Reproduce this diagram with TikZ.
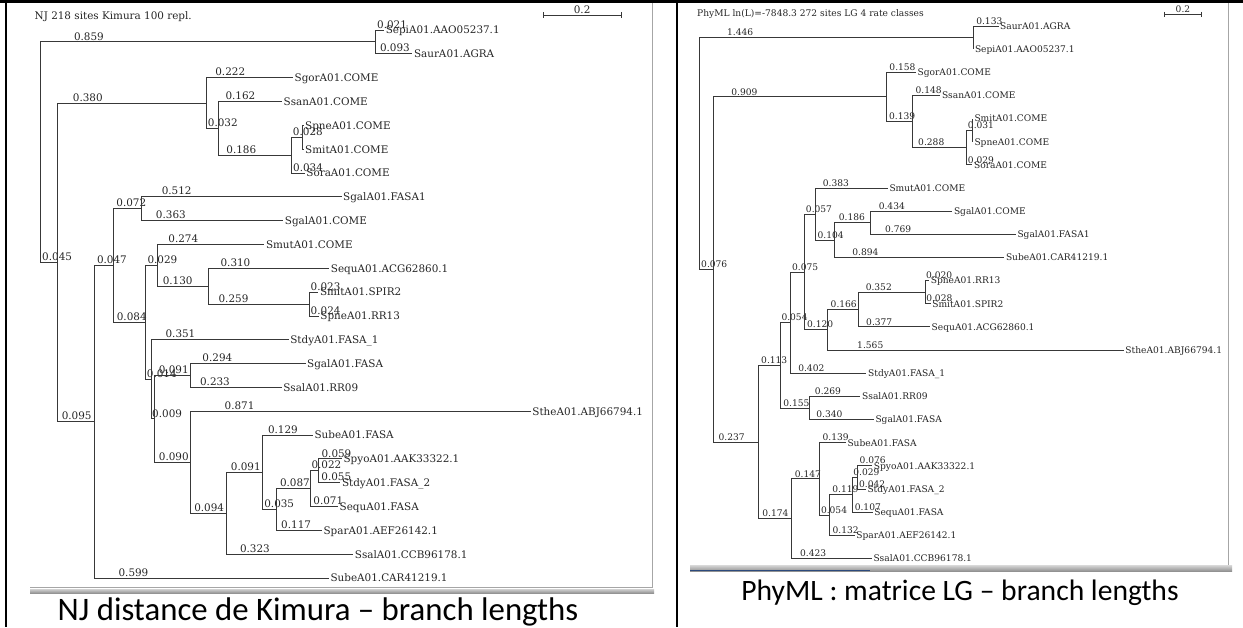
\documentclass[tikz,border=0pt]{standalone}
\usepackage{fontspec}
\newfontfamily\treefont{DejaVu Serif}
\newfontfamily\capfont{Carlito}
\newcommand\lfnt{\treefont\fontsize{10.4pt}{12pt}\selectfont}
\newcommand\rfnt{\treefont\fontsize{9.1pt}{11pt}\selectfont}
\usetikzlibrary{calc}
\definecolor{barblue}{RGB}{45,75,125}
\tikzset{
  br/.style={draw=black!78, line width=0.95pt},
  labL/.style={anchor=south west, inner xsep=0pt, inner ysep=1.4pt, text depth=0pt, font=\lfnt, text=black!85},
  labR/.style={anchor=south west, inner xsep=0pt, inner ysep=1.4pt, text depth=0pt, font=\rfnt, text=black!85},
  leafL/.style={anchor=west, inner xsep=1.5pt, inner ysep=0pt, text height=7.6pt, text depth=0pt, font=\lfnt, text=black!85},
  leafR/.style={anchor=west, inner xsep=1.5pt, inner ysep=0pt, text height=6.6pt, text depth=0pt, font=\rfnt, text=black!85},
  border/.style={draw=black, line width=2.3pt},
  frame/.style={draw=black!35, line width=1pt},
}
\newcommand\brL[3]{\draw[br] (#1) |- (#2) node[labL,pos=0.55]{#3};}
\newcommand\brR[3]{\draw[br] (#1) |- (#2) node[labR,pos=0.55]{#3};}
\newcommand\brZ[2]{\draw[br] (#1) |- (#2);}
\begin{document}
\begin{tikzpicture}[x=1pt,y=-1pt]
\useasboundingbox (0,0) rectangle (1243,627);
\fill[white] (0,0) rectangle (1243,627);

% ---------- table borders ----------
\draw[draw=black, line width=3.3pt] (0,1.65) -- (1243,1.65);
\draw[border] (6.1,0) -- (6.1,627);
\draw[border] (677.2,0) -- (677.2,627);

% ---------- screenshot frames ----------
\draw[frame] (652.5,3) -- (652.5,587.5) -- (30,587.5);
\shade[top color=black!18, bottom color=black!45] (30,589) rectangle (654,593.5);
\draw[frame] (1228,3) -- (1228,565);
\shade[top color=black!15, bottom color=black!45] (690,565) rectangle (1232,571.5);
\draw[barblue, line width=1.5pt] (690,570.7) -- (870,570.7);

% ---------- titles and scale bars ----------
\node[font=\lfnt, text=black!85, anchor=base west, inner sep=0pt] (titL) at (34.5,19) {NJ 218 sites Kimura 100 repl.};
\node[font=\rfnt, text=black!85, anchor=base west, inner sep=0pt] (titR) at (697,16) {PhyML ln(L)=-7848.3 272 sites LG 4 rate classes};

\coordinate (sL1) at (543,15);
\coordinate (sL2) at (621.2,15);
\draw[br] (sL1) -- (sL2) node[midway, anchor=south, inner sep=0.8pt, font=\lfnt, text=black!85] (sLlab) {0.2};
\draw[br] ([yshift=3pt]sL1) -- ([yshift=-3pt]sL1);
\draw[br] ([yshift=3pt]sL2) -- ([yshift=-3pt]sL2);

\coordinate (sR1) at (1164,14.4);
\coordinate (sR2) at (1201.9,14.4);
\draw[br] (sR1) -- (sR2) node[midway, anchor=south, inner sep=0.8pt, font=\rfnt, text=black!85] (sRlab) {0.2};
\draw[br] ([yshift=2.5pt]sR1) -- ([yshift=-2.5pt]sR1);
\draw[br] ([yshift=2.5pt]sR2) -- ([yshift=-2.5pt]sR2);

% ---------- captions ----------
\node[font=\capfont\fontsize{32.8pt}{38pt}\selectfont, anchor=base, inner sep=0pt] (capL) at (318,620) {NJ distance de Kimura – branch lengths};
\node[font=\capfont\fontsize{29.6pt}{34pt}\selectfont, anchor=base, inner sep=0pt] (capR) at (960,600) {PhyML : matrice LG – branch lengths};

% ================= LEFT TREE (NJ) =================
\coordinate (lR) at (40,152.15);
\coordinate (lA) at (375.9,41.9);
\coordinate (lB) at (57.6,262.4);
\coordinate (lC) at (206.2,103.0);
\coordinate (lE) at (218.7,128.3);
\coordinate (lF) at (291.4,155.1);
\coordinate (lG) at (302.3,137.25);
\coordinate (lD) at (94.7,421.8);
\coordinate (lH) at (113.1,265.5);
\coordinate (lI) at (141.3,208.7);
\coordinate (lJ) at (145.9,322.35);
\coordinate (lK) at (157.2,265.35);
\coordinate (lM) at (208.0,286.2);
\coordinate (lN) at (309.3,304.05);
\coordinate (lL) at (151.4,379.35);
\coordinate (lO) at (154.9,418.9);
\coordinate (lQ) at (190.5,375.55);
\coordinate (lP) at (190.1,462.3);
\coordinate (lS) at (226.9,513.3);
\coordinate (lT) at (262.5,472.3);
\coordinate (lU) at (276.2,509.55);
\coordinate (lV) at (310.2,488.7);
\coordinate (lW) at (318.8,470.85);

\node[leafL] (lSepi)  at (384.1,30.0)  {SepiA01.AAO05237.1};
\node[leafL] (lSaur)  at (412.3,53.8)  {SaurA01.AGRA};
\node[leafL] (lSgor)  at (293.0,77.7)  {SgorA01.COME};
\node[leafL] (lSsan)  at (282.0,101.5) {SsanA01.COME};
\node[leafL] (lSpneC) at (303.5,125.3) {SpneA01.COME};
\node[leafL] (lSmitC) at (303.5,149.2) {SmitA01.COME};
\node[leafL] (lSora)  at (304.7,173.0) {SoraA01.COME};
\node[leafL] (lSgalFa) at (341.5,196.8) {SgalA01.FASA1};
\node[leafL] (lSgalC) at (283.2,220.6) {SgalA01.COME};
\node[leafL] (lSmut)  at (264.3,244.5) {SmutA01.COME};
\node[leafL] (lSequA) at (329.2,268.3) {SequA01.ACG62860.1};
\node[leafL] (lSmitS) at (318.3,292.1) {SmitA01.SPIR2};
\node[leafL] (lSpneR) at (318.7,316.0) {SpneA01.RR13};
\node[leafL] (lStdyA) at (288.6,339.8) {StdyA01.FASA\_1};
\node[leafL] (lSgalF) at (305.5,363.6) {SgalA01.FASA};
\node[leafL] (lSsalR) at (281.6,387.5) {SsalA01.RR09};
\node[leafL] (lSthe)  at (530.7,411.3) {StheA01.ABJ66794.1};
\node[leafL] (lSubeF) at (312.9,435.1) {SubeA01.FASA};
\node[leafL] (lSpyo)  at (341.9,458.9) {SpyoA01.AAK33322.1};
\node[leafL] (lStdyB) at (340.3,482.8) {StdyA01.FASA\_2};
\node[leafL] (lSequF) at (338.0,506.6) {SequA01.FASA};
\node[leafL] (lSpar)  at (321.9,530.4) {SparA01.AEF26142.1};
\node[leafL] (lSsalC) at (353.2,554.3) {SsalA01.CCB96178.1};
\node[leafL] (lSubeC) at (328.9,578.1) {SubeA01.CAR41219.1};

\brL{lR}{lA}{0.859}
\brL{lR}{lB}{0.045}
\brL{lA}{lSepi.west}{0.021}
\brL{lA}{lSaur.west}{0.093}
\brL{lB}{lC}{0.380}
\brL{lB}{lD}{0.095}
\brL{lC}{lSgor.west}{0.222}
\brL{lC}{lE}{0.032}
\brL{lE}{lSsan.west}{0.162}
\brL{lE}{lF}{0.186}
\brL{lF}{lG}{0.028}
\brL{lF}{lSora.west}{0.034}
\brZ{lG}{lSpneC.west}
\brZ{lG}{lSmitC.west}
\brL{lD}{lH}{0.047}
\brL{lD}{lSubeC.west}{0.599}
\brL{lH}{lI}{0.072}
\brL{lH}{lJ}{0.084}
\brL{lI}{lSgalFa.west}{0.512}
\brL{lI}{lSgalC.west}{0.363}
\brL{lJ}{lK}{0.029}
\brL{lJ}{lL}{0.014}
\brL{lK}{lSmut.west}{0.274}
\brL{lK}{lM}{0.130}
\brL{lM}{lSequA.west}{0.310}
\brL{lM}{lN}{0.259}
\brL{lN}{lSmitS.west}{0.023}
\brL{lN}{lSpneR.west}{0.024}
\brL{lL}{lStdyA.west}{0.351}
\brL{lL}{lO}{0.009}
\brL{lO}{lQ}{0.091}
\brL{lO}{lP}{0.090}
\brL{lQ}{lSgalF.west}{0.294}
\brL{lQ}{lSsalR.west}{0.233}
\brL{lP}{lSthe.west}{0.871}
\brL{lP}{lS}{0.094}
\brL{lS}{lT}{0.091}
\brL{lS}{lSsalC.west}{0.323}
\brL{lT}{lSubeF.west}{0.129}
\brL{lT}{lU}{0.035}
\brL{lU}{lV}{0.087}
\brL{lU}{lSpar.west}{0.117}
\brL{lV}{lW}{0.022}
\brL{lV}{lSequF.west}{0.071}
\brL{lW}{lSpyo.west}{0.059}
\brL{lW}{lStdyB.west}{0.055}

% ================= RIGHT TREE (PhyML) =================
\coordinate (rR) at (699.3,153.5);
\coordinate (rA) at (973.3,37.6);
\coordinate (rB) at (713.7,269.45);
\coordinate (rC) at (886.0,96.9);
\coordinate (rE) at (912.3,121.5);
\coordinate (rF) at (966.9,147.55);
\coordinate (rG) at (972.8,130.2);
\coordinate (rD) at (758.6,442.0);
\coordinate (rH) at (780.0,365.3);
\coordinate (rJ) at (790.2,322.6);
\coordinate (rL) at (804.4,272.0);
\coordinate (rM) at (815.2,214.1);
\coordinate (rO) at (834.9,240.15);
\coordinate (rP) at (870.1,222.8);
\coordinate (rN) at (827.1,329.85);
\coordinate (rQ) at (858.6,309.6);
\coordinate (rX) at (925.3,292.2);
\coordinate (rK) at (809.4,408.0);
\coordinate (rI) at (791.6,518.7);
\coordinate (rS) at (819.5,478.9);
\coordinate (rT) at (829.7,515.05);
\coordinate (rU) at (852.3,494.8);
\coordinate (rV) at (857.8,477.4);

\node[leafR] (rSaur)  at (998.5,26.0)   {SaurA01.AGRA};
\node[leafR] (rSepi)  at (973.3,49.15)  {SepiA01.AAO05237.1};
\node[leafR] (rSgor)  at (915.9,72.3)   {SgorA01.COME};
\node[leafR] (rSsan)  at (940.3,95.45)  {SsanA01.COME};
\node[leafR] (rSmitC) at (972.8,118.6)  {SmitA01.COME};
\node[leafR] (rSpneC) at (972.8,141.75) {SpneA01.COME};
\node[leafR] (rSora)  at (972.4,164.9)  {SoraA01.COME};
\node[leafR] (rSmut)  at (887.8,188.05) {SmutA01.COME};
\node[leafR] (rSgalC) at (952.3,211.2)  {SgalA01.COME};
\node[leafR] (rSgalFa) at (1015.8,234.35) {SgalA01.FASA1};
\node[leafR] (rSubeC) at (1004.3,257.5) {SubeA01.CAR41219.1};
\node[leafR] (rSpneR) at (929.1,280.65) {SpneA01.RR13};
\node[leafR] (rSmitS) at (930.6,303.8)  {SmitA01.SPIR2};
\node[leafR] (rSequA) at (930.0,326.95) {SequA01.ACG62860.1};
\node[leafR] (rSthe)  at (1123.7,350.1) {StheA01.ABJ66794.1};
\node[leafR] (rStdyA) at (866.4,373.25) {StdyA01.FASA\_1};
\node[leafR] (rSsalR) at (860.4,396.4)  {SsalA01.RR09};
\node[leafR] (rSgalF) at (873.8,419.55) {SgalA01.FASA};
\node[leafR] (rSubeF) at (845.8,442.7)  {SubeA01.FASA};
\node[leafR] (rSpyo)  at (872.2,465.85) {SpyoA01.AAK33322.1};
\node[leafR] (rStdyB) at (865.8,489.0)  {StdyA01.FASA\_2};
\node[leafR] (rSequF) at (872.6,512.15) {SequA01.FASA};
\node[leafR] (rSpar)  at (854.7,535.3)  {SparA01.AEF26142.1};
\node[leafR] (rSsalC) at (871.8,558.45) {SsalA01.CCB96178.1};

\brR{rR}{rA}{1.446}
\brR{rR}{rB}{0.076}
\brR{rA}{rSaur.west}{0.133}
\brZ{rA}{rSepi.west}
\brR{rB}{rC}{0.909}
\brR{rB}{rD}{0.237}
\brR{rC}{rSgor.west}{0.158}
\brR{rC}{rE}{0.139}
\brR{rE}{rSsan.west}{0.148}
\brR{rE}{rF}{0.288}
\brR{rF}{rG}{0.031}
\brR{rF}{rSora.west}{0.029}
\brZ{rG}{rSmitC.west}
\brZ{rG}{rSpneC.west}
\brR{rD}{rH}{0.113}
\brR{rD}{rI}{0.174}
\brR{rH}{rJ}{0.054}
\brR{rH}{rK}{0.155}
\brR{rJ}{rL}{0.075}
\brR{rJ}{rStdyA.west}{0.402}
\brR{rL}{rM}{0.057}
\brR{rL}{rN}{0.120}
\brR{rM}{rSmut.west}{0.383}
\brR{rM}{rO}{0.104}
\brR{rO}{rP}{0.186}
\brR{rO}{rSubeC.west}{0.894}
\brR{rP}{rSgalC.west}{0.434}
\brR{rP}{rSgalFa.west}{0.769}
\brR{rN}{rQ}{0.166}
\brR{rN}{rSthe.west}{1.565}
\brR{rQ}{rX}{0.352}
\brR{rQ}{rSequA.west}{0.377}
\brR{rX}{rSpneR.west}{0.020}
\brR{rX}{rSmitS.west}{0.028}
\brR{rK}{rSsalR.west}{0.269}
\brR{rK}{rSgalF.west}{0.340}
\brR{rI}{rS}{0.147}
\brR{rI}{rSsalC.west}{0.423}
\brR{rS}{rSubeF.west}{0.139}
\brR{rS}{rT}{0.054}
\brR{rT}{rU}{0.119}
\brR{rT}{rSpar.west}{0.132}
\brR{rU}{rV}{0.029}
\brR{rU}{rSequF.west}{0.107}
\brR{rV}{rSpyo.west}{0.076}
\brR{rV}{rStdyB.west}{0.042}
\end{tikzpicture}
\end{document}
